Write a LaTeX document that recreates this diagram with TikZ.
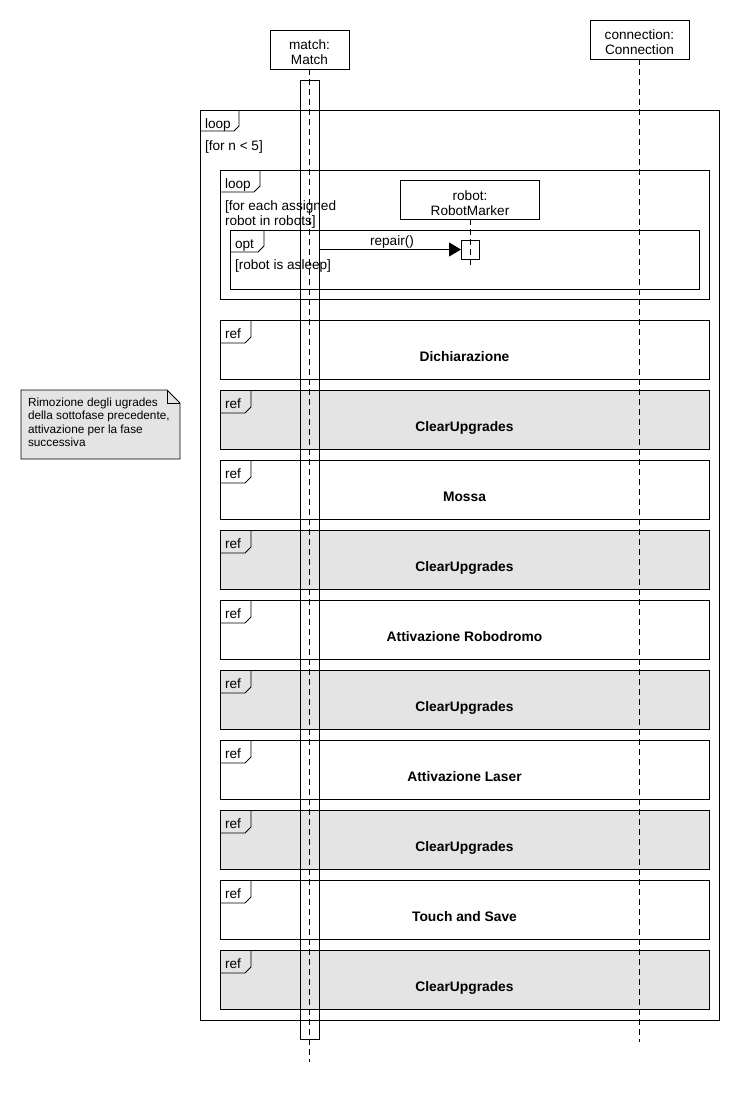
\documentclass[tikz,border=0pt]{standalone}
\usepackage{fontspec}
\setmainfont{Liberation Sans}
\usetikzlibrary{arrows.meta}
\definecolor{refgray}{RGB}{228,228,228}
\begin{document}
\begin{tikzpicture}[x=1pt,y=-1pt,
  every node/.style={inner sep=0pt, outer sep=0pt},
  txt/.style={font=\fontsize{13.6}{15}\selectfont},
  boldtxt/.style={font=\fontsize{13.8}{15}\selectfont\bfseries},
  notetxt/.style={font=\fontsize{11.8}{13.5}\selectfont, anchor=base west},
  frameline/.style={draw=black, line width=0.9pt},
  headbox/.style={draw=black, line width=0.9pt, fill=white},
  actbar/.style={draw=black, line width=0.9pt},
  lifeline/.style={draw=black, line width=0.8pt, dash pattern=on 6pt off 4pt},
  msg/.style={draw=black, line width=0.9pt, -{Triangle[length=12pt,width=14pt]}}
]
\fill[white] (0,0) rectangle (740,1100);
\useasboundingbox (0,0) rectangle (740,1100);

% ---------- outer loop ----------
\draw[frameline] (200,110) rectangle (719,1020);
\draw[frameline] (200,131) -- (234,131) -- (239,126) -- (239,110);
\node[txt, anchor=base west] (loopA) at (205,128) {loop};
\node[txt, anchor=base west] (guardA) at (205,150) {[for n < 5]};

% ---------- inner loop ----------
\draw[frameline] (220,170) rectangle (709,299);
\draw[frameline] (220,192) -- (254,192) -- (260,186) -- (260,170);
\node[txt, anchor=base west] (loopB) at (225,188) {loop};
\node[txt, anchor=base west] (guardB1) at (225,210) {[for each assigned};
\node[txt, anchor=base west] (guardB2) at (225,225) {robot in robots]};

% ---------- opt ----------
\draw[frameline] (230,230) rectangle (699,289);
\draw[frameline] (230,252) -- (258,252) -- (264,246) -- (264,230);
\node[txt, anchor=base west] (optL) at (235,248) {opt};
\node[txt, anchor=base west] (guardC) at (235,269) {[robot is asleep]};

% ---------- ref frames ----------
\foreach \yy/\lab/\fc [count=\i] in {
  320/Dichiarazione/white,
  390/ClearUpgrades/refgray,
  460/Mossa/white,
  530/ClearUpgrades/refgray,
  600/Attivazione Robodromo/white,
  670/ClearUpgrades/refgray,
  740/Attivazione Laser/white,
  810/ClearUpgrades/refgray,
  880/Touch and Save/white,
  950/ClearUpgrades/refgray} {
  \draw[frameline, fill=\fc] (220,\yy) rectangle (709,\yy+59);
  \draw[frameline] (220,\yy+23) -- (245,\yy+23) -- (251,\yy+17) -- (251,\yy);
  \node[txt, anchor=base west] (reftag\i) at (225,\yy+18) {ref};
  \node[boldtxt, anchor=base] (reflab\i) at (464.5,\yy+41) {\lab};
}

% ---------- note ----------
\filldraw[frameline, fill=refgray] (21,390) -- (167,390) -- (180,403) -- (180,459) -- (21,459) -- cycle;
\draw[frameline] (167,390) -- (167,403) -- (180,403);
\node[notetxt] (note1) at (28,406) {Rimozione degli ugrades};
\node[notetxt] (note2) at (28,419.5) {della sottofase precedente,};
\node[notetxt] (note3) at (28,433) {attivazione per la fase};
\node[notetxt] (note4) at (28,446.5) {successiva};

% ---------- lifeline heads ----------
\node[headbox, minimum width=79, minimum height=39] (match) at (309.5,49.5) {};
\node[txt, anchor=base] (matchT1) at (309.5,49) {match:};
\node[txt, anchor=base] (matchT2) at (309.5,64) {Match};

\node[headbox, minimum width=99, minimum height=39] (conn) at (639.5,39.5) {};
\node[txt, anchor=base] (connT1) at (639.5,39) {connection:};
\node[txt, anchor=base] (connT2) at (639.5,54) {Connection};

\node[headbox, minimum width=139, minimum height=39] (robot) at (469.5,199.5) {};
\node[txt, anchor=base] (robotT1) at (470,200) {robot:};
\node[txt, anchor=base] (robotT2) at (470,215) {RobotMarker};

% ---------- lifelines ----------
\coordinate (matchEnd) at (309.5,1062);
\coordinate (connEnd) at (639.5,1042);
\coordinate (robotEnd) at (470,268);
\draw[lifeline] (match.south) -- (matchEnd);
\draw[lifeline] (conn.south) -- (connEnd);
\draw[lifeline] (robot.south -| robotEnd) -- (robotEnd);

% ---------- activations ----------
\node[actbar, minimum width=19, minimum height=959] (actM) at (309.5,559.5) {};
\node[actbar, minimum width=18, minimum height=19] (actR) at (470,249.5) {};

% ---------- message ----------
\draw[msg] (actM.east |- actR.west) -- (actR.west);
\node[txt, anchor=base] (repairL) at (392,245) {repair()};
\end{tikzpicture}
\end{document}
